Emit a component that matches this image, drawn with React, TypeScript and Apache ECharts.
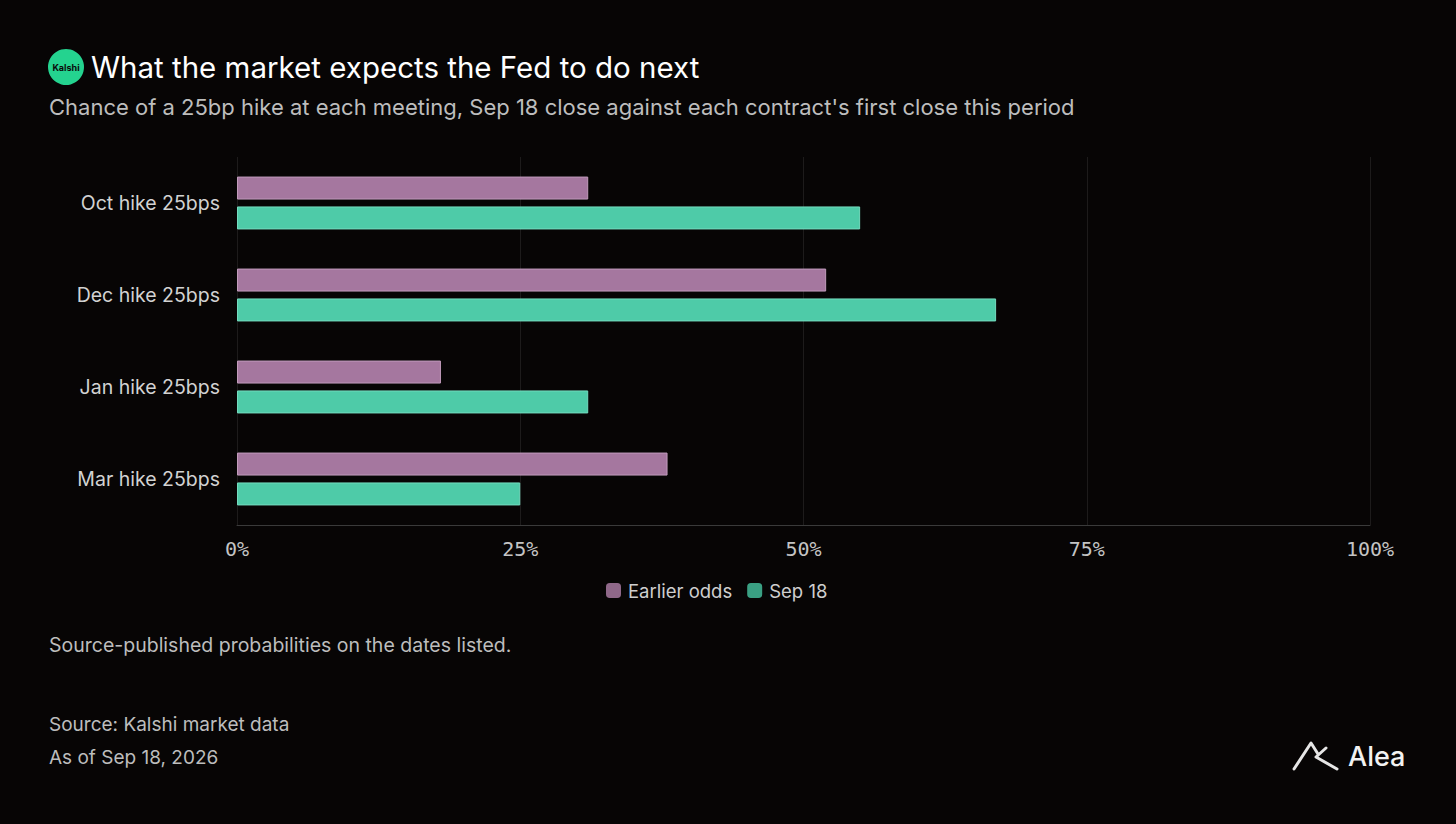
import React, { useEffect, useRef } from "react";
import * as echarts from "echarts";

const categories = ["Oct hike 25bps", "Dec hike 25bps", "Jan hike 25bps", "Mar hike 25bps"];
const earlierOdds = [31, 52, 18, 38];
const sep18Odds = [55, 67, 31, 25];
const xTicks = [0, 25, 50, 75, 100];
const seriesNames = ["Earlier odds", "Sep 18"];

const SANS = "Inter, 'Noto Sans', sans-serif";
const MONO = "'DejaVu Sans Mono', 'Liberation Mono', monospace";

export default function App() {
  const ref = useRef<HTMLDivElement>(null);
  useEffect(() => {
    if (!ref.current) return;
    const chart = echarts.init(ref.current, undefined, { renderer: "svg" });
    chart.setOption({
      animation: false,
      backgroundColor: "#070505",
      grid: { left: 237, right: 86, top: 157, height: 368, containLabel: false },
      xAxis: {
        type: "value",
        min: 0,
        max: 100,
        interval: 25,
        axisLine: { show: true, lineStyle: { color: "#3a3a3a", width: 1 } },
        axisTick: { show: false },
        splitLine: { show: true, lineStyle: { color: "#1d1b1b", width: 1 } },
        axisLabel: {
          color: "#c4c4c4",
          fontFamily: MONO,
          fontSize: 20,
          margin: 14,
          formatter: (v: number) => (xTicks.includes(v) ? v + "%" : ""),
        },
      },
      yAxis: {
        type: "category",
        data: categories,
        inverse: true,
        axisLine: { show: false },
        axisTick: { show: false },
        axisLabel: { color: "#d2d2d2", fontFamily: SANS, fontSize: 19.5, margin: 17 },
      },
      legend: {
        data: [
          { name: seriesNames[0], itemStyle: { color: "#8f6889", borderWidth: 0 } },
          { name: seriesNames[1], itemStyle: { color: "#3aa083", borderWidth: 0 } },
        ],
        left: 601,
        top: 576,
        icon: "roundRect",
        itemWidth: 15,
        itemHeight: 15,
        itemGap: 15,
        textStyle: { color: "#cfcfcf", fontFamily: SANS, fontSize: 18.5, padding: [0, 0, 0, 2] },
      },
      series: [
        {
          name: seriesNames[0],
          type: "bar",
          data: earlierOdds,
          barWidth: 23,
          barGap: "30%",
          itemStyle: { color: "#a5779f", borderColor: "#c29cbc", borderWidth: 1 },
        },
        {
          name: seriesNames[1],
          type: "bar",
          data: sep18Odds,
          barWidth: 23,
          barGap: "30%",
          itemStyle: { color: "#4ecba8", borderColor: "#74dcbf", borderWidth: 1 },
        },
      ],
      graphic: [
        { type: "circle", shape: { cx: 66, cy: 67, r: 18 }, style: { fill: "#24d38f" } },
        {
          type: "text",
          x: 66,
          y: 67,
          style: { text: "Kalshi", fill: "#0a0a0a", font: `bold 9px ${SANS}`, align: "center", verticalAlign: "middle" },
        },
        {
          type: "text",
          x: 91,
          y: 67,
          style: { text: "What the market expects the Fed to do next", fill: "#ffffff", font: `400 29.5px ${SANS}`, verticalAlign: "middle" },
        },
        {
          type: "text",
          x: 49,
          y: 107,
          style: {
            text: "Chance of a 25bp hike at each meeting, Sep 18 close against each contract's first close this period",
            fill: "#bdbdbd",
            font: `22px ${SANS}`,
            verticalAlign: "middle",
          },
        },
        {
          type: "text",
          x: 49,
          y: 645,
          style: { text: "Source-published probabilities on the dates listed.", fill: "#bdbdbd", font: `19.5px ${SANS}`, verticalAlign: "middle" },
        },
        {
          type: "text",
          x: 49,
          y: 724,
          style: { text: "Source: Kalshi market data", fill: "#bdbdbd", font: `19px ${SANS}`, verticalAlign: "middle" },
        },
        {
          type: "text",
          x: 49,
          y: 757,
          style: { text: "As of Sep 18, 2026", fill: "#bdbdbd", font: `19px ${SANS}`, verticalAlign: "middle" },
        },
        {
          type: "polyline",
          shape: { points: [[1294, 769], [1311, 743], [1318, 754]] },
          style: { stroke: "#e6e6e6", lineWidth: 3, fill: "none", lineCap: "round", lineJoin: "round" },
        },
        {
          type: "polyline",
          shape: { points: [[1326, 748], [1316, 757], [1337, 769]] },
          style: { stroke: "#e6e6e6", lineWidth: 3, fill: "none", lineCap: "round", lineJoin: "round" },
        },
        {
          type: "text",
          x: 1348,
          y: 756,
          style: { text: "Alea", fill: "#f2f2f2", font: `500 27px ${SANS}`, verticalAlign: "middle" },
        },
      ],
    });
    return () => chart.dispose();
  }, []);
  return <div ref={ref} style={{ width: 1456, height: 824, position: "absolute", left: 0, top: 0 }} />;
}
